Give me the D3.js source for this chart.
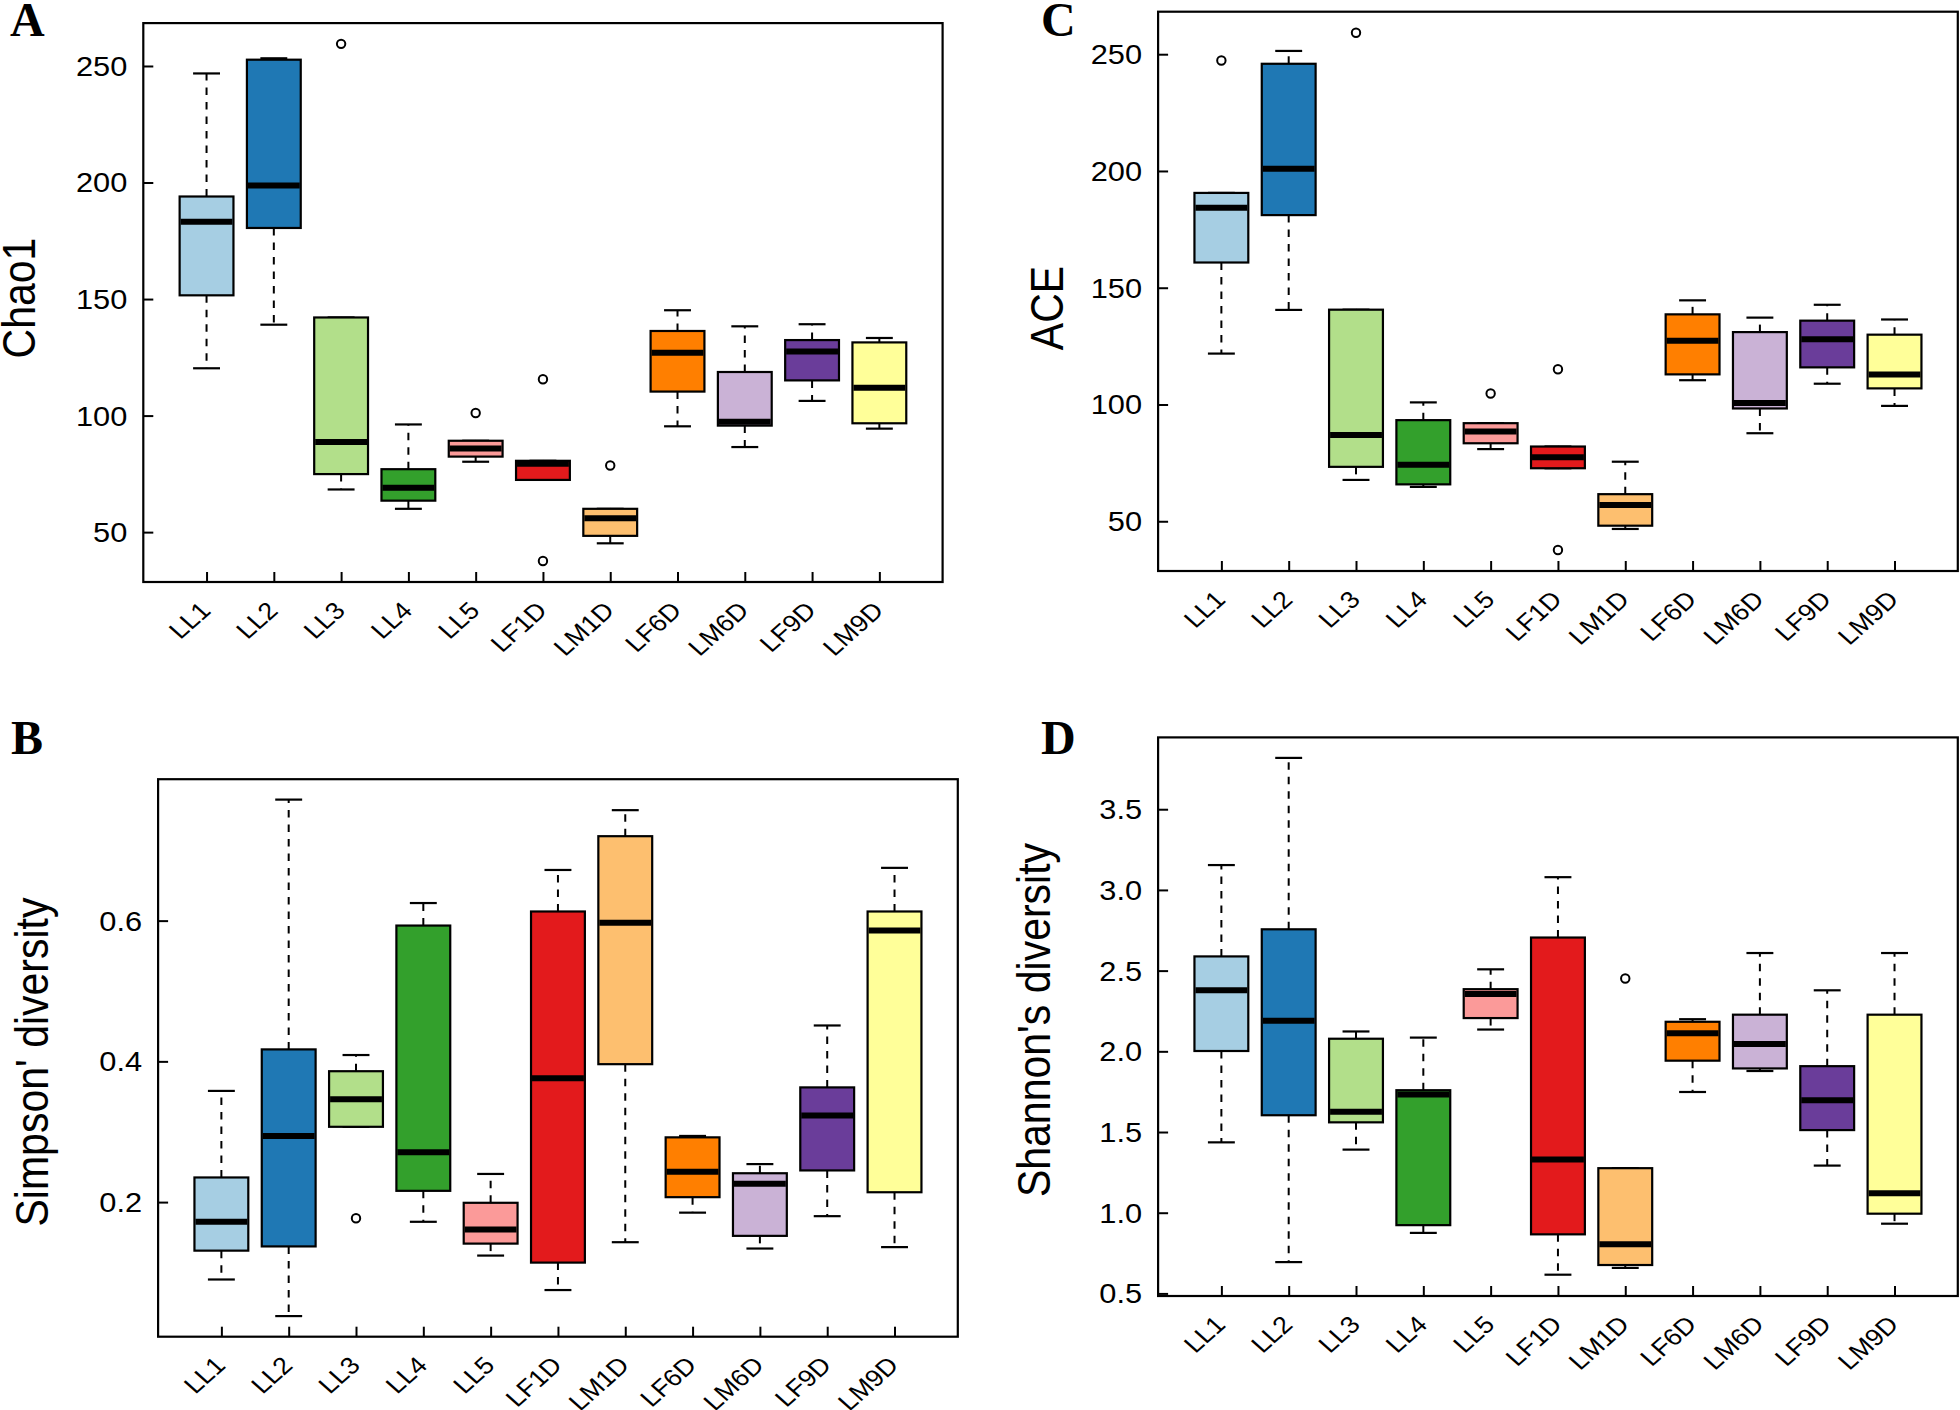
<!DOCTYPE html>
<html>
<head>
<meta charset="utf-8">
<script src="https://cdn.jsdelivr.net/npm/d3@7"></script>
<style>
  html, body { margin: 0; padding: 0; background: #fff; }
  svg { display: block; }
</style>
</head>
<body>
<svg id="chart" width="1960" height="1410"></svg>
<script>
// ---------------- DATA ----------------
const groups = ["LL1","LL2","LL3","LL4","LL5","LF1D","LM1D","LF6D","LM6D","LF9D","LM9D"];
const groupColors = ["#A6CEE3","#1F78B4","#B2DF8A","#33A02C","#FB9A99","#E31A1C","#FDBF6F","#FF7F00","#CAB2D6","#6A3D9A","#FFFF99"];

// Panel A: Chao1
const chaoLow  = [120.3, 139.0, 68.3, 60.0, 80.2, 72.4, 45.2, 95.4, 86.5, 106.3, 94.4];
const chaoQ1   = [151.6, 180.5, 74.9, 63.5, 82.4, 72.4, 48.4, 110.3, 95.7, 115.1, 96.7];
const chaoMed  = [183.2, 198.7, 88.7, 69.0, 85.9, 79.3, 56.0, 127.0, 97.4, 127.5, 111.9];
const chaoQ3   = [194.0, 252.7, 142.1, 77.0, 89.2, 80.6, 60.0, 136.3, 118.7, 132.4, 131.4];
const chaoHigh = [246.8, 253.3, 142.1, 96.2, 89.2, 80.6, 60.0, 145.2, 138.3, 139.2, 133.3];
const chaoOut  = [[], [], [259.5], [], [101.1], [115.6, 37.6], [78.6], [], [], [], []];
const chaoTicks = [50, 100, 150, 200, 250];

// Panel C: ACE
const aceLow  = [121.8, 140.5, 67.7, 64.7, 80.9, 72.7, 46.7, 110.4, 87.7, 108.9, 99.4];
const aceQ1   = [160.8, 181.1, 73.3, 65.8, 83.4, 72.7, 48.1, 112.9, 98.3, 115.9, 106.9];
const aceMed  = [184.2, 200.9, 86.9, 74.2, 88.4, 77.4, 57.0, 127.3, 100.6, 127.9, 112.8];
const aceQ3   = [190.6, 245.9, 140.6, 93.3, 92.0, 82.0, 61.6, 138.6, 131.0, 135.9, 129.9];
const aceHigh = [190.6, 251.4, 140.6, 100.9, 92.0, 82.0, 75.5, 144.6, 137.2, 142.7, 136.4];
const aceOut  = [[247.3], [], [259.2], [], [104.7], [115.1, 37.7], [], [], [], [], []];
const aceTicks = [50, 100, 150, 200, 250];

// Panel B: Simpson' diversity
const simpLow  = [0.090, 0.038, 0.307, 0.172, 0.124, 0.075, 0.143, 0.185, 0.134, 0.180, 0.136];
const simpQ1   = [0.131, 0.137, 0.307, 0.216, 0.141, 0.114, 0.396, 0.207, 0.152, 0.245, 0.214];
const simpMed  = [0.172, 0.294, 0.346, 0.271, 0.161, 0.376, 0.597, 0.243, 0.226, 0.323, 0.586];
const simpQ3   = [0.235, 0.417, 0.386, 0.593, 0.199, 0.613, 0.720, 0.292, 0.241, 0.363, 0.613];
const simpHigh = [0.358, 0.772, 0.409, 0.625, 0.240, 0.672, 0.757, 0.294, 0.254, 0.451, 0.675];
const simpOut  = [[], [], [0.177], [], [], [], [], [], [], [], []];
const simpTicks = [0.2, 0.4, 0.6];

// Panel D: Shannon's diversity
const shanLow  = [1.436, 0.694, 1.391, 0.875, 2.135, 0.616, 0.658, 1.748, 1.878, 1.292, 0.932];
const shanQ1   = [2.002, 1.604, 1.560, 0.923, 2.206, 0.866, 0.676, 1.942, 1.894, 1.512, 0.994];
const shanMed  = [2.378, 2.190, 1.626, 1.732, 2.355, 1.329, 0.804, 2.112, 2.046, 1.697, 1.120];
const shanQ3   = [2.588, 2.756, 2.078, 1.759, 2.385, 2.705, 1.276, 2.183, 2.227, 1.908, 2.227];
const shanHigh = [3.154, 3.818, 2.123, 2.085, 2.508, 3.079, 1.276, 2.199, 2.609, 2.378, 2.609];
const shanOut  = [[], [], [], [], [], [], [2.451], [], [], [], []];
const shanTicks = [0.5, 1.0, 1.5, 2.0, 2.5, 3.0, 3.5];

// ---------------- LAYOUT ----------------
const panels = [
  { letter: "A", title: "Chao1", low: chaoLow, q1: chaoQ1, med: chaoMed, q3: chaoQ3, high: chaoHigh, out: chaoOut,
    ticks: chaoTicks, fmt: d3.format("d"), yLim: [28.6, 268.4],
    left: 143.3, right: 942.6, top: 23.1, bottom: 582, titleX: 35, titleY: 298, letterX: 10, letterY: 36 },
  { letter: "C", title: "ACE", low: aceLow, q1: aceQ1, med: aceMed, q3: aceQ3, high: aceHigh, out: aceOut,
    ticks: aceTicks, fmt: d3.format("d"), yLim: [28.7, 268.2],
    left: 1158.1, right: 1957.8, top: 11.7, bottom: 571, titleX: 1063, titleY: 308, letterX: 1041, letterY: 36 },
  { letter: "B", title: "Simpson' diversity", low: simpLow, q1: simpQ1, med: simpMed, q3: simpQ3, high: simpHigh, out: simpOut,
    ticks: simpTicks, fmt: d3.format(".1f"), yLim: [0.0087, 0.801],
    left: 158.1, right: 957.8, top: 779.2, bottom: 1336.7, titleX: 48, titleY: 1062, letterX: 11, letterY: 753.5 },
  { letter: "D", title: "Shannon's diversity", low: shanLow, q1: shanQ1, med: shanMed, q3: shanQ3, high: shanHigh, out: shanOut,
    ticks: shanTicks, fmt: d3.format(".1f"), yLim: [0.484, 3.945],
    left: 1158.1, right: 1957.8, top: 737.4, bottom: 1296, titleX: 1050, titleY: 1020, letterX: 1041, letterY: 753.5 }
];

const SX = 1.12;            // horizontal stretch of the original figure's text
const FONT = "'Liberation Sans', Arial, Helvetica, sans-serif";
const LWD = 2.2;

const svg = d3.select("#chart");

panels.forEach(p => {
  const g = svg.append("g");
  const x = d3.scaleLinear().domain([0.06, groups.length + 0.94]).range([p.left, p.right]);
  const y = d3.scaleLinear().domain(p.yLim).range([p.bottom, p.top]);
  const step = x(2) - x(1);
  const bw = step * 0.8;
  const cw = bw * 0.5;

  const rows = groups.map((name, i) => ({
    name, i: i + 1, color: groupColors[i],
    low: p.low[i], q1: p.q1[i], med: p.med[i], q3: p.q3[i], high: p.high[i], out: p.out[i]
  }));

  // whiskers (dashed)
  const wg = g.append("g");
  rows.forEach(r => {
    wg.append("line")
      .attr("x1", x(r.i)).attr("x2", x(r.i))
      .attr("y1", y(r.q3)).attr("y2", y(r.high))
      .attr("stroke", "#000").attr("stroke-width", 2).attr("stroke-dasharray", "7.5,7");
    wg.append("line")
      .attr("x1", x(r.i)).attr("x2", x(r.i))
      .attr("y1", y(r.q1)).attr("y2", y(r.low))
      .attr("stroke", "#000").attr("stroke-width", 2).attr("stroke-dasharray", "7.5,7");
    // staples
    [r.high, r.low].forEach(v => {
      wg.append("line")
        .attr("x1", x(r.i) - cw / 2).attr("x2", x(r.i) + cw / 2)
        .attr("y1", y(v)).attr("y2", y(v))
        .attr("stroke", "#000").attr("stroke-width", LWD);
    });
  });

  // boxes
  g.append("g").selectAll("rect").data(rows).join("rect")
    .attr("x", d => x(d.i) - bw / 2)
    .attr("width", bw)
    .attr("y", d => y(d.q3))
    .attr("height", d => Math.max(0.5, y(d.q1) - y(d.q3)))
    .attr("fill", d => d.color)
    .attr("stroke", "#000").attr("stroke-width", LWD);

  // medians
  g.append("g").selectAll("line").data(rows).join("line")
    .attr("x1", d => x(d.i) - bw / 2 + 1).attr("x2", d => x(d.i) + bw / 2 - 1)
    .attr("y1", d => y(d.med)).attr("y2", d => y(d.med))
    .attr("stroke", "#000").attr("stroke-width", 6);

  // outliers
  const outs = rows.flatMap(r => r.out.map(v => ({ i: r.i, v })));
  g.append("g").selectAll("circle").data(outs).join("circle")
    .attr("cx", d => x(d.i)).attr("cy", d => y(d.v)).attr("r", 4.2)
    .attr("fill", "none").attr("stroke", "#000").attr("stroke-width", 2);

  // frame
  g.append("rect")
    .attr("x", p.left).attr("y", p.top)
    .attr("width", p.right - p.left).attr("height", p.bottom - p.top)
    .attr("fill", "none").attr("stroke", "#000").attr("stroke-width", LWD);

  // y axis
  const ya = g.append("g").attr("transform", `translate(${p.left},0)`)
    .call(d3.axisLeft(y).tickValues(p.ticks).tickFormat(p.fmt).tickSize(-10).tickPadding(16));
  ya.select(".domain").remove();
  ya.selectAll(".tick line").attr("stroke", "#000").attr("stroke-width", 2);
  ya.selectAll(".tick text")
    .attr("x", null).attr("dy", null)
    .attr("transform", `translate(-16,0) scale(${SX},1)`)
    .attr("dominant-baseline", "central")
    .attr("text-anchor", "end")
    .attr("font-family", FONT).attr("font-size", 27.5).attr("fill", "#000");

  // x axis
  const xa = g.append("g").attr("transform", `translate(0,${p.bottom})`)
    .call(d3.axisBottom(x).tickValues(d3.range(1, groups.length + 1))
      .tickFormat(i => groups[i - 1]).tickSize(-10));
  xa.select(".domain").remove();
  xa.selectAll(".tick line").attr("stroke", "#000").attr("stroke-width", 2);
  xa.selectAll(".tick text")
    .attr("y", null).attr("dy", null)
    .attr("transform", `translate(5,30) scale(${SX},1) rotate(-45)`)
    .attr("text-anchor", "end")
    .attr("font-family", FONT).attr("font-size", 24).attr("fill", "#000");

  // y title
  g.append("text")
    .attr("transform", `translate(${p.titleX},${p.titleY}) scale(${SX},1) rotate(-90)`)
    .attr("text-anchor", "middle")
    .attr("font-family", FONT).attr("font-size", 41).attr("fill", "#000")
    .text(p.title);

  // panel letter
  g.append("text")
    .attr("x", p.letterX).attr("y", p.letterY)
    .attr("font-family", "'Liberation Serif', 'Times New Roman', serif")
    .attr("font-weight", "bold").attr("font-size", 48).attr("fill", "#000")
    .text(p.letter);
});
</script>
</body>
</html>
